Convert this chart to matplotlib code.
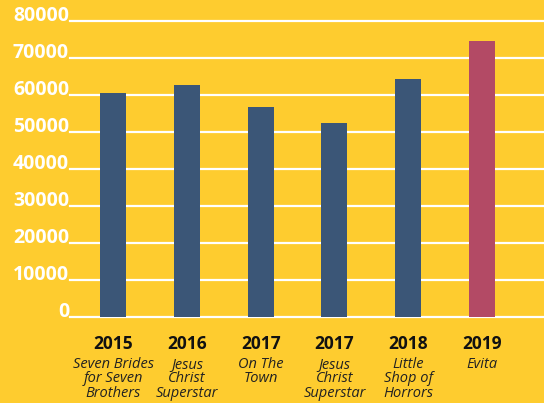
import matplotlib
matplotlib.use("Agg")
import matplotlib.pyplot as plt
import matplotlib.transforms as mtransforms

years = ["2015", "2016", "2017", "2017", "2018", "2019"]
shows = ["Seven Brides\nfor Seven\nBrothers", "Jesus\nChrist\nSuperstar", "On The\nTown",
         "Jesus\nChrist\nSuperstar", "Little\nShop of\nHorrors", "Evita"]
values = [60500, 62700, 56800, 52500, 64300, 74600]
colors = ["#3b5677", "#3b5677", "#3b5677", "#3b5677", "#3b5677", "#b34a65"]
yticks = [0, 10000, 20000, 30000, 40000, 50000, 60000, 70000, 80000]

bg = "#fecc2f"
fig = plt.figure(figsize=(5.44, 4.03), dpi=100, facecolor=bg)
ax = fig.add_axes([0.1287, 0.2141, 0.8713, 0.7338])
ax.set_facecolor(bg)

x = list(range(len(values)))
for v in yticks:
    ax.axhline(v, color="white", lw=1.6, zorder=1, clip_on=False)
ax.bar(x, values, width=0.352, color=colors, zorder=2)

ax.set_xlim(-0.5827, 5.840)
ax.set_ylim(0, 80000)
ax.set_xticks([])
ax.set_yticks([])
for s in ax.spines.values():
    s.set_visible(False)

# y labels sit on the lines
trans = mtransforms.blended_transform_factory(ax.transAxes, ax.transData)
for v in yticks:
    ax.text(-0.002, v, str(v), transform=trans, ha="right", va="baseline",
            color="white", fontsize=14, fontweight="bold", family="Open Sans")

# category labels
tx = mtransforms.blended_transform_factory(ax.transData, fig.transFigure)
for i in x:
    ax.text(i, 0.1464, years[i], transform=tx, ha="center", va="center",
            fontsize=12.5, fontweight="bold", color="#111111", family="Open Sans")
    ax.text(i, 0.1150, shows[i], transform=tx, ha="center", va="top",
            fontsize=10.5, style="italic", color="#222222", family="Open Sans",
            linespacing=0.95)

plt.savefig("out.png", dpi=100, facecolor=bg)
